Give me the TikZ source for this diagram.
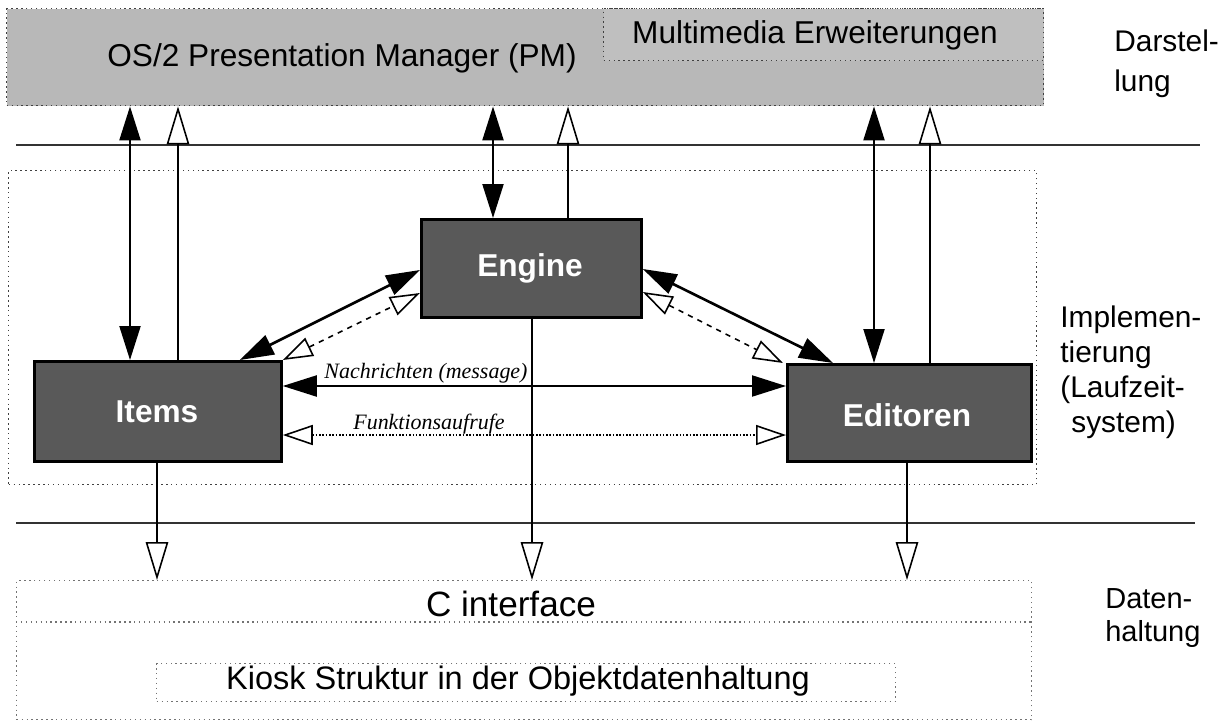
\documentclass[tikz,border=0pt]{standalone}
\usepackage{fontspec}
\setmainfont{Liberation Sans}
\newfontfamily\serifit{Liberation Serif}
\usetikzlibrary{arrows.meta,calc}
\begin{document}
\begin{tikzpicture}[x=0.02cm,y=-0.02cm,
  frame/.style={draw=black!75, dotted, line width=0.8pt, inner sep=0pt, anchor=north west},
  darkbox/.style={draw=black, line width=1.6pt, fill=black!65, inner sep=0pt, anchor=north west},
  boxtext/.style={text=white, font=\fontsize{18}{20}\selectfont\bfseries},
  lbl/.style={font=\fontsize{17}{20}\selectfont, align=left, anchor=west, inner sep=0pt},
  big/.style={font=\fontsize{18}{20}\selectfont, inner sep=0pt},
  msg/.style={font=\serifit\itshape\fontsize{12.5}{14}\selectfont, inner sep=1pt},
  sep/.style={draw=black!80, line width=0.8pt},
  dbl/.style={line width=1.2pt, {Triangle[width=0.42cm,length=0.68cm]}-{Triangle[width=0.42cm,length=0.68cm]}},
  hollowarrow/.style={line width=0.9pt, -{Triangle[open,fill=white,width=0.45cm,length=0.76cm]}},
  dashhollow/.style={line width=0.9pt, dashed, {Triangle[open,fill=white,width=0.4cm,length=0.6cm]}-{Triangle[open,fill=white,width=0.4cm,length=0.6cm]}},
  dothollow/.style={line width=0.9pt, densely dotted, {Triangle[open,fill=white,width=0.4cm,length=0.6cm]}-{Triangle[open,fill=white,width=0.4cm,length=0.6cm]}}
]
\useasboundingbox (0,0) rectangle (1220,724);

% Darstellung layer
\node[frame, fill=black!28, minimum width=20.74cm, minimum height=1.94cm] (band) at (6,8) {};
\node[frame, fill=black!25, minimum width=8.8cm, minimum height=1.04cm] (mm) at (603,8) {};
\node[big] (pmtext) at (342,58) {OS/2 Presentation Manager (PM)};
\node[big] (mmtext) at (815,35) {Multimedia Erweiterungen};
\node[lbl, font=\fontsize{17}{22.5}\selectfont] (darst) at (1114,64) {Darstel-\\lung};

% separators
\coordinate (s1a) at (16,145); \coordinate (s1b) at (1200,145);
\coordinate (s2a) at (16,523); \coordinate (s2b) at (1195,523);
\draw[sep] (s1a) -- (s1b);
\draw[sep] (s2a) -- (s2b);

% Implementierung layer
\node[frame, minimum width=20.56cm, minimum height=6.28cm] (impl) at (8,170) {};
\node[lbl] (impltext) at (1060,372) {Implemen-\\tierung\\(Laufzeit-\\\hspace*{0.22cm}system)};

\node[darkbox, minimum width=4.94cm, minimum height=2.0cm] (items) at (33,360) {};
\node[boxtext] (itemstext) at (157,412) {Items};
\node[darkbox, minimum width=4.4cm, minimum height=1.96cm] (engine) at (420,218) {};
\node[boxtext] (enginetext) at (530,268) {Engine};
\node[darkbox, minimum width=4.88cm, minimum height=1.94cm] (editoren) at (786,363) {};
\node[boxtext] (editorentext) at (907,415) {Editoren};

% Datenhaltung layer
\node[frame, draw=black!55, minimum width=20.3cm, minimum height=2.78cm] (bottom) at (16,580) {};
\coordinate (cl) at (16,622); \coordinate (cr) at (1031,622);
\draw[draw=black!55, dotted, line width=0.8pt] (cl) -- (cr);
\node[big, font=\fontsize{20}{22}\selectfont] (ciftext) at (511,604) {C interface};
\node[frame, draw=black!55, minimum width=14.78cm, minimum height=0.76cm] (kiosk) at (156,663) {};
\node[big, font=\fontsize{18.5}{20}\selectfont] (kiosktext) at (518,681) {Kiosk Struktur in der Objektdatenhaltung};
\node[lbl, font=\fontsize{16.5}{19}\selectfont] (datentext) at (1105,618) {Daten-\\haltung};

% x positions of vertical connectors
\coordinate (xa) at (130,0);
\coordinate (xb) at (178,0);
\coordinate (xc) at (157,0);
\coordinate (xd) at (493,0);
\coordinate (xe) at (568,0);
\coordinate (xf) at (532,0);
\coordinate (xg) at (874,0);
\coordinate (xh) at (930,0);
\coordinate (xi) at (907,0);

% to/from PM
\draw[dbl] (xa |- band.south) -- (xa |- items.north);
\draw[hollowarrow] (xb |- items.north) -- (xb |- band.south);
\draw[dbl] (xd |- band.south) -- (xd |- engine.north);
\draw[hollowarrow] (xe |- engine.north) -- (xe |- band.south);
\draw[dbl] (xg |- band.south) -- (xg |- editoren.north);
\draw[hollowarrow] (xh |- editoren.north) -- (xh |- band.south);

% to data layer
\draw[hollowarrow] (xc |- items.south) -- (xc |- bottom.north);
\draw[hollowarrow] (xf |- engine.south) -- (xf |- bottom.north);
\draw[hollowarrow] (xi |- editoren.south) -- (xi |- bottom.north);

% between components
\draw[dbl, line width=1.5pt] ($(items.north east)+(-43,0)$) -- ($(engine.north west)+(0,52)$);
\draw[dashhollow] (items.north east) -- ($(engine.north west)+(0,75)$);
\draw[dbl, line width=1.5pt] ($(engine.north east)+(0,51)$) -- ($(editoren.north west)+(47,0)$);
\draw[dashhollow] ($(engine.north east)+(0,74)$) -- ($(editoren.north west)+(-3,0)$);
\draw[dbl] ($(items.north east)+(0,26)$) -- ($(editoren.north west)+(0,23)$);
\draw[dothollow] ($(items.north east)+(0,75)$) -- ($(editoren.north west)+(0,72)$);

\node[msg] (nach) at (426,373) {Nachrichten (message)};
\node[msg] (funk) at (429,424) {Funktionsaufrufe};
\end{tikzpicture}
\end{document}
